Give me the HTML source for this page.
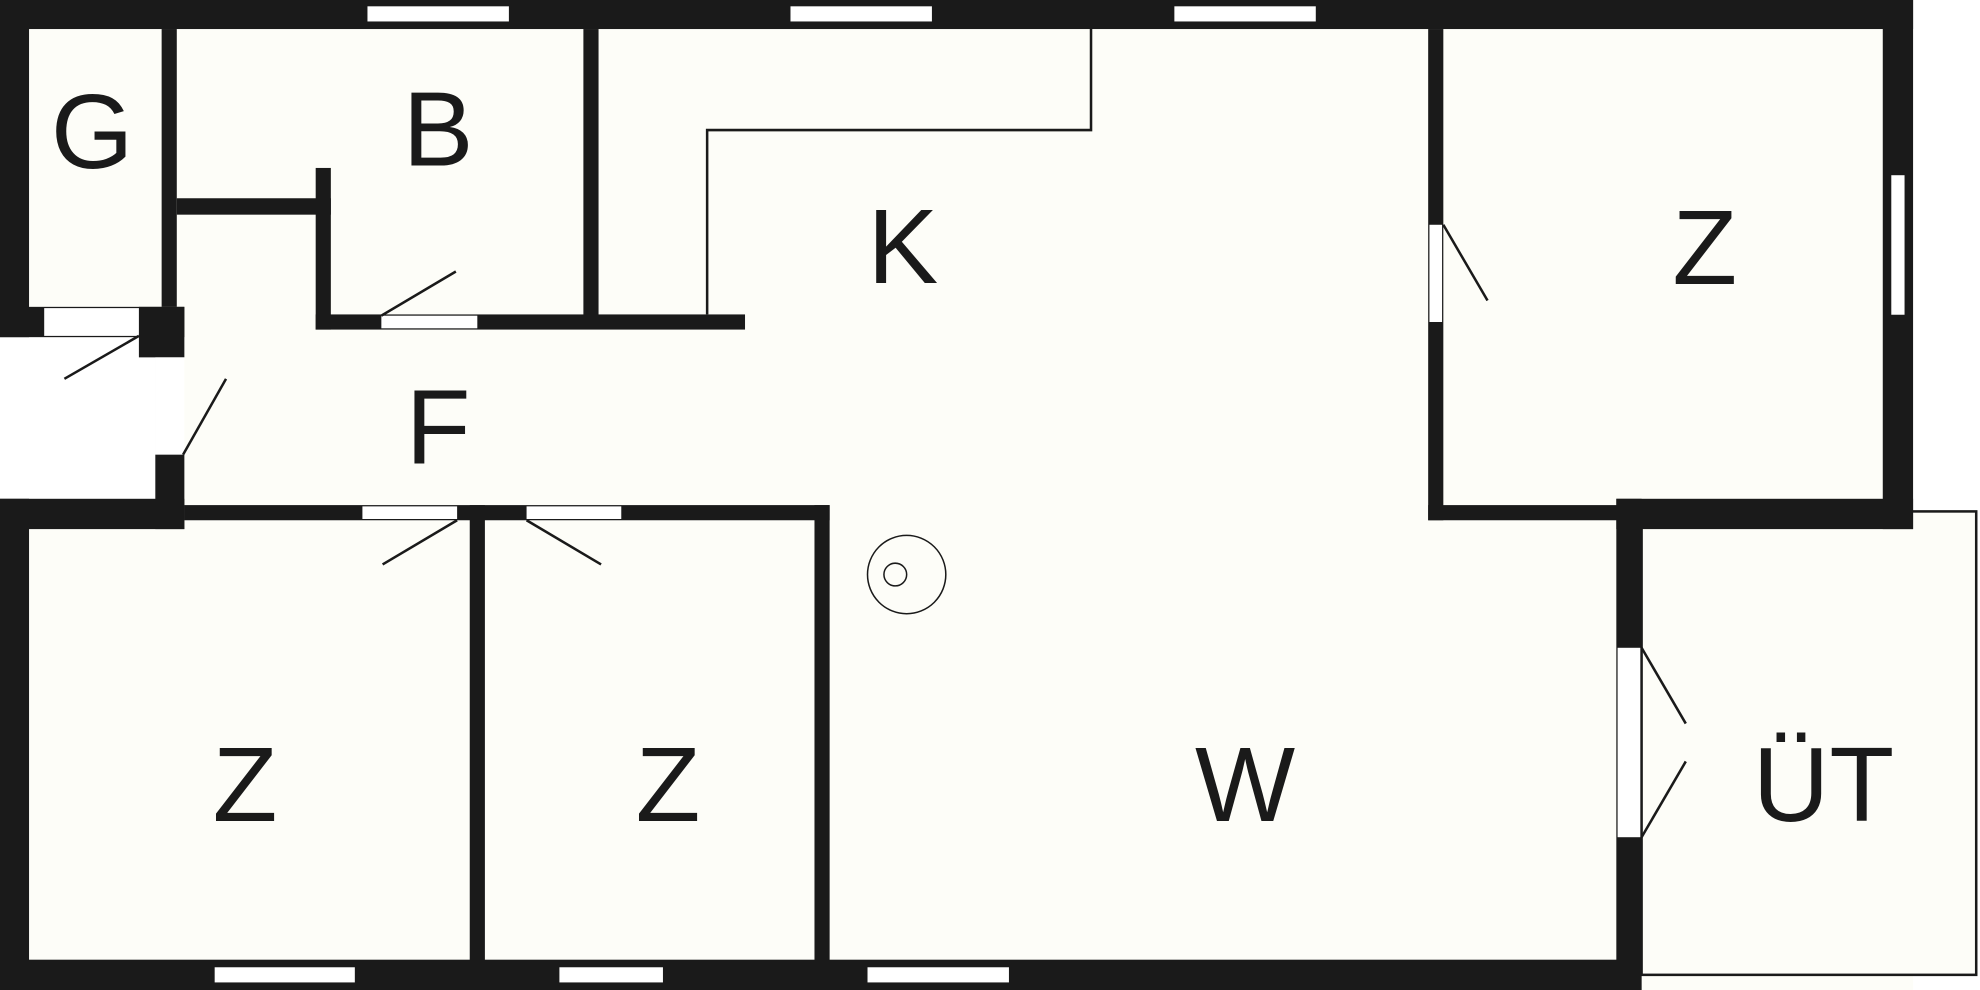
<!DOCTYPE html>
<html><head><meta charset="utf-8"><style>html,body{margin:0;padding:0;background:#fff}svg{display:block}</style></head><body>
<svg width="1980" height="990" viewBox="0 0 1568 784" xmlns="http://www.w3.org/2000/svg">
<rect x="0" y="0" width="1568" height="784" fill="#fff"/>
<rect x="0" y="0" width="1515" height="784" fill="#fdfdf8"/>
<rect x="0" y="267" width="123" height="128" fill="#fff"/>
<rect x="1300" y="405" width="265" height="367" fill="#fdfdf8" stroke="#1a1a1a" stroke-width="2"/>
<g fill="#1a1a1a">
<rect x="0" y="0" width="1515" height="23"/>
<rect x="0" y="0" width="23" height="267"/>
<rect x="128" y="23" width="12" height="220"/>
<rect x="0" y="243" width="146" height="24"/>
<rect x="110" y="243" width="36" height="40"/>
<rect x="123" y="360" width="23" height="59"/>
<rect x="140" y="157" width="122" height="13"/>
<rect x="250" y="133" width="12" height="128"/>
<rect x="250" y="249" width="340" height="12"/>
<rect x="462" y="23" width="12" height="232"/>
<rect x="1131" y="23" width="12" height="389"/>
<rect x="1131" y="400" width="160" height="12"/>
<rect x="1280" y="395" width="235" height="24"/>
<rect x="1491" y="0" width="24" height="419"/>
<rect x="146" y="400" width="511" height="12"/>
<rect x="372" y="400" width="12" height="370"/>
<rect x="645" y="400" width="12" height="370"/>
<rect x="0" y="395" width="146" height="24"/>
<rect x="0" y="395" width="23" height="389"/>
<rect x="0" y="760" width="1300" height="24"/>
<rect x="1280" y="395" width="20" height="389"/>
</g>
<g fill="#fff">
<rect x="291" y="5" width="112" height="12"/>
<rect x="626" y="5" width="112" height="12"/>
<rect x="930" y="5" width="112" height="12"/>
<rect x="35" y="244" width="75" height="22"/>
<rect x="123" y="283" width="23" height="77"/>
<rect x="302" y="250" width="76" height="10"/>
<rect x="1132" y="178" width="10" height="77"/>
<rect x="287" y="401" width="75" height="10"/>
<rect x="417" y="401" width="75" height="10"/>
<rect x="1281" y="513" width="18" height="150"/>
<rect x="170" y="766" width="111" height="12"/>
<rect x="443" y="766" width="82" height="12"/>
<rect x="687" y="766" width="112" height="12"/>
<rect x="1497" y="138" width="12" height="112"/>
</g>
<g stroke="#1a1a1a" stroke-width="2" fill="none">
<polyline points="560,249 560,103 864,103 864,23"/>
<line x1="110" y1="266" x2="51" y2="300"/>
<line x1="145" y1="360" x2="179" y2="300"/>
<line x1="302" y1="250" x2="361" y2="215"/>
<line x1="1143" y1="178" x2="1178" y2="238"/>
<line x1="362" y1="412" x2="303" y2="447"/>
<line x1="417" y1="412" x2="476" y2="447"/>
<line x1="1300" y1="513" x2="1335" y2="573"/>
<line x1="1300" y1="663" x2="1335" y2="603"/>
<circle cx="718" cy="455" r="31" stroke-width="1.2"/>
<circle cx="709" cy="455" r="9" stroke-width="1.2"/>
<rect x="1497" y="138" width="12" height="112" stroke-width="1.5"/>
</g>
<g font-family="Liberation Sans, sans-serif" font-size="84" fill="#1a1a1a" text-anchor="middle">
<text x="73" y="133">G</text>
<text x="347" y="131">B</text>
<text x="715" y="224">K</text>
<text x="1350" y="225">Z</text>
<text x="347" y="367">F</text>
<text x="194" y="650">Z</text>
<text x="529" y="650">Z</text>
<text x="986" y="650">W</text>
<text x="1444" y="650">ÜT</text>
</g>
</svg>
</body></html>
